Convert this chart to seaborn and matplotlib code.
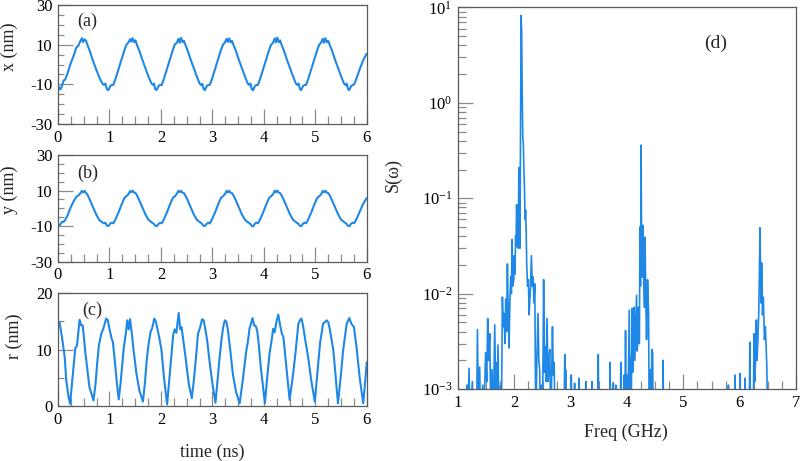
import matplotlib
matplotlib.use("Agg")
import numpy as np
import pandas as pd
import matplotlib.pyplot as plt
import seaborn as sns
from matplotlib.ticker import MultipleLocator, FixedLocator, LogLocator, NullFormatter

# ---------------- data ----------------
t_xy = [0.000, 0.020, 0.045, 0.080, 0.110, 0.140, 0.185, 0.245, 0.305, 0.355, 0.395, 0.435, 0.465, 0.490, 0.515, 0.545, 0.575, 0.615, 0.675, 0.735, 0.800, 0.860, 0.890, 0.920, 0.950,
        0.980, 1.015, 1.045, 1.075, 1.120, 1.180, 1.240, 1.290, 1.330, 1.370, 1.400, 1.425, 1.450, 1.480, 1.505, 1.540, 1.580, 1.640, 1.700, 1.760, 1.810, 1.840, 1.865, 1.890,
        1.920, 1.955, 1.985, 2.015, 2.060, 2.120, 2.180, 2.230, 2.270, 2.310, 2.340, 2.365, 2.390, 2.420, 2.445, 2.480, 2.520, 2.580, 2.640, 2.700, 2.750, 2.780, 2.805, 2.830,
        2.855, 2.890, 2.920, 2.950, 2.995, 3.055, 3.115, 3.165, 3.205, 3.245, 3.275, 3.300, 3.325, 3.355, 3.380, 3.415, 3.455, 3.515, 3.575, 3.635, 3.685, 3.715, 3.740, 3.765,
        3.790, 3.825, 3.855, 3.885, 3.930, 3.990, 4.050, 4.100, 4.140, 4.180, 4.210, 4.235, 4.260, 4.290, 4.315, 4.350, 4.390, 4.450, 4.510, 4.570, 4.620, 4.650, 4.675, 4.700,
        4.725, 4.760, 4.790, 4.820, 4.865, 4.925, 4.985, 5.035, 5.075, 5.115, 5.145, 5.170, 5.195, 5.225, 5.250, 5.285, 5.325, 5.385, 5.445, 5.505, 5.555, 5.585, 5.610, 5.635,
        5.660, 5.695, 5.725, 5.755, 5.800, 5.860, 5.920, 5.960, 6.000]

x_nm = [-10.2, -11.8, -12.6, -10.6, -8.0, -7.6, -4.5, 0.5, 4.5, 8.5, 9.5, 11.8, 13.3, 11.3, 12.7, 12.0, 9.7, 7.0, 2.3, -2.0, -6.3, -9.5, -10.3, -9.6, -12.4,
        -12.9, -10.9, -10.3, -10.3, -7.0, -2.0, 3.0, 7.2, 10.0, 11.2, 12.8, 11.5, 13.3, 11.3, 12.2, 9.5, 7.0, 2.3, -2.0, -6.2, -9.3, -10.2, -9.6, -12.5,
        -12.8, -10.8, -10.2, -10.4, -7.0, -2.0, 3.0, 7.2, 10.2, 11.0, 13.0, 11.0, 13.5, 11.4, 12.0, 9.6, 7.0, 2.3, -2.0, -6.2, -9.5, -10.3, -9.8, -12.4,
        -12.9, -10.9, -10.3, -10.3, -7.0, -2.0, 3.0, 7.2, 10.0, 11.2, 13.0, 11.4, 13.2, 11.2, 12.0, 9.5, 7.0, 2.3, -2.0, -6.2, -9.5, -10.3, -9.6, -12.4,
        -13.0, -10.9, -10.3, -10.3, -7.0, -2.0, 3.0, 7.2, 10.0, 11.0, 13.2, 11.2, 13.6, 11.3, 12.2, 9.5, 7.0, 2.3, -2.0, -6.2, -9.5, -10.3, -9.6, -12.4,
        -12.9, -10.9, -10.3, -10.3, -7.0, -2.0, 3.0, 7.2, 10.0, 11.2, 13.0, 11.0, 13.3, 11.3, 12.0, 9.5, 7.0, 2.3, -2.0, -6.2, -9.5, -10.3, -9.6, -12.4,
        -12.9, -10.9, -10.3, -10.0, -7.0, -2.5, 1.5, 3.8, 5.5]

y_nm = [-9.2, -9.8, -9.0, -7.5, -7.6, -6.5, -4.0, 0.5, 4.0, 6.5, 7.2, 8.5, 9.8, 8.9, 9.8, 8.6, 7.5, 5.0, 1.0, -3.0, -6.5, -7.8, -8.4, -8.0, -9.7,
        -9.9, -8.5, -8.0, -8.4, -6.0, -2.0, 2.5, 5.8, 6.9, 8.0, 9.7, 9.0, 10.0, 8.8, 8.7, 7.0, 4.5, 0.5, -3.5, -6.5, -7.6, -8.2, -8.8, -9.7,
        -10.0, -8.6, -8.1, -8.4, -6.0, -2.0, 2.5, 5.8, 6.8, 8.2, 9.9, 9.1, 9.8, 8.8, 8.6, 7.0, 4.5, 0.5, -3.5, -6.5, -7.6, -8.2, -8.9, -9.8,
        -9.9, -8.6, -8.0, -8.5, -6.0, -2.0, 2.5, 5.8, 6.8, 8.0, 9.8, 8.9, 9.9, 8.7, 8.6, 7.0, 4.5, 0.5, -3.5, -6.5, -7.7, -8.2, -8.8, -9.9,
        -10.1, -8.6, -8.0, -8.4, -6.0, -2.0, 2.5, 5.8, 6.8, 8.0, 9.9, 9.0, 10.0, 8.8, 8.6, 7.0, 4.5, 0.5, -3.5, -6.5, -7.6, -8.2, -8.8, -9.8,
        -10.0, -8.6, -8.0, -8.4, -6.0, -2.0, 2.5, 5.8, 6.8, 8.0, 9.8, 9.0, 9.9, 8.8, 8.6, 7.0, 4.5, 0.5, -3.5, -6.5, -7.6, -8.2, -8.8, -9.8,
        -10.0, -8.6, -8.0, -8.3, -6.0, -2.0, 2.0, 4.0, 5.8]

t_r = [0.000, 0.030, 0.060, 0.090, 0.130, 0.160, 0.205, 0.235, 0.265, 0.300, 0.335, 0.370, 0.395, 0.420, 0.450, 0.480, 0.500, 0.530, 0.565, 0.610, 0.690,
       0.730, 0.760, 0.795, 0.840, 0.880, 0.935, 0.965, 1.000, 1.040, 1.065, 1.100, 1.145, 1.180,
       1.215, 1.250, 1.280, 1.320, 1.345, 1.375, 1.400, 1.430, 1.470, 1.520, 1.580, 1.650,
       1.690, 1.720, 1.760, 1.800, 1.830, 1.870, 1.900, 1.930, 1.970, 2.010, 2.060, 2.120,
       2.160, 2.200, 2.240, 2.270, 2.300, 2.345, 2.375, 2.400, 2.430, 2.480, 2.540, 2.600,
       2.640, 2.680, 2.720, 2.760, 2.800, 2.830, 2.860, 2.900, 2.950, 3.000, 3.060,
       3.100, 3.140, 3.180, 3.210, 3.240, 3.270, 3.300, 3.340, 3.400, 3.460, 3.530,
       3.590, 3.660, 3.690, 3.720, 3.780, 3.810, 3.840, 3.870, 3.900, 3.940, 4.020,
       4.060, 4.110, 4.150, 4.180, 4.210, 4.250, 4.280, 4.310, 4.350, 4.380, 4.430, 4.500,
       4.570, 4.620, 4.670, 4.700, 4.730, 4.760, 4.810, 4.860, 4.920, 4.990,
       5.040, 5.090, 5.150, 5.190, 5.220, 5.250, 5.280, 5.350, 5.400, 5.440,
       5.500, 5.540, 5.610, 5.660, 5.700, 5.750, 5.800, 5.860, 5.930, 5.960, 6.000]

r_nm = [14.6, 14.9, 13.1, 11.4, 8.7, 4.6, 1.6, 0.4, 3.4, 6.9, 10.2, 10.8, 13.1, 15.3, 14.3, 14.3, 12.5, 9.6, 6.9, 3.4, 1.0,
        4.0, 7.5, 10.8, 12.8, 13.7, 15.5, 15.3, 13.7, 12.0, 11.4, 8.4, 4.0, 1.2,
        4.0, 7.5, 10.5, 13.0, 15.2, 13.6, 15.4, 13.2, 9.8, 6.0, 2.8, 0.8,
        4.2, 7.8, 11.0, 13.2, 13.8, 15.5, 15.0, 13.8, 12.0, 10.0, 5.0, 0.3,
        4.4, 8.6, 12.8, 13.6, 13.0, 16.5, 13.6, 14.0, 12.0, 8.5, 4.0, 1.4,
        4.6, 8.5, 12.8, 13.9, 15.4, 15.2, 13.8, 11.5, 7.5, 4.0, 0.6,
        4.6, 8.6, 12.0, 14.0, 15.2, 15.0, 13.6, 10.5, 5.5, 2.5, 0.5,
        4.6, 9.9, 11.4, 13.7, 15.6, 14.3, 14.2, 13.4, 11.0, 6.9, 0.5,
        4.6, 9.3, 11.6, 13.7, 13.1, 15.2, 16.2, 14.6, 12.8, 12.2, 7.5, 1.1,
        5.8, 9.9, 14.6, 15.2, 15.5, 14.3, 11.4, 8.7, 4.6, 0.8,
        5.8, 11.0, 14.6, 14.9, 15.2, 14.9, 13.7, 9.9, 4.6, 0.5,
        5.8, 9.9, 14.6, 15.6, 14.6, 14.0, 10.5, 5.2, 0.5, 3.4, 7.8]

freq_ghz = [1.100, 1.150, 1.160, 1.175, 1.195, 1.215, 1.255, 1.270, 1.330, 1.345, 1.365, 1.385, 1.400, 1.440, 1.455,
            1.490, 1.510, 1.527, 1.545, 1.563, 1.585, 1.604, 1.625, 1.652, 1.668, 1.680, 1.695, 1.710, 1.730, 1.752, 1.770,
            1.788, 1.803, 1.818, 1.833, 1.847, 1.862, 1.877, 1.892, 1.906, 1.920, 1.936, 1.948, 1.960, 1.975, 1.990, 2.000,
            2.013, 2.022, 2.030, 2.040, 2.050, 2.060, 2.070, 2.080, 2.090, 2.100, 2.110, 2.120, 2.130, 2.140, 2.150, 2.160,
            2.170, 2.180, 2.190, 2.200, 2.210, 2.220, 2.235, 2.250, 2.262, 2.274, 2.288, 2.303, 2.318, 2.333, 2.348, 2.363,
            2.380, 2.400, 2.420, 2.435, 2.450, 2.465, 2.480, 2.500, 2.520, 2.535, 2.546, 2.562, 2.580, 2.600, 2.615, 2.630,
            2.645, 2.660, 2.677, 2.692, 2.706, 2.725, 2.880, 2.896, 2.903, 2.910, 2.925, 3.000, 3.010, 3.020, 3.060, 3.070,
            3.080, 3.140, 3.150, 3.160, 3.260, 3.270, 3.280, 3.370, 3.380, 3.390, 3.480, 3.490, 3.500, 3.690, 3.700, 3.710,
            3.745, 3.755, 3.765, 3.790, 3.800, 3.810, 3.880, 3.890, 3.900, 3.940, 3.950, 3.960, 3.974, 3.988, 4.000, 4.015,
            4.040, 4.052, 4.060, 4.075, 4.087, 4.100, 4.110, 4.128, 4.138, 4.146, 4.158, 4.170, 4.180, 4.187, 4.196, 4.205,
            4.213, 4.220, 4.230, 4.240, 4.250, 4.258, 4.265, 4.272, 4.280, 4.290, 4.306, 4.320, 4.335, 4.347, 4.365, 4.383,
            4.395, 4.420, 4.430, 4.440, 4.455, 4.466, 4.630, 4.640, 4.650, 5.790, 5.800, 5.810, 5.907, 5.917, 5.927, 5.996,
            6.006, 6.016, 6.085, 6.095, 6.105, 6.170, 6.180, 6.195, 6.240, 6.255, 6.268, 6.280, 6.296, 6.308, 6.320, 6.338,
            6.350, 6.360, 6.370, 6.380, 6.390, 6.405, 6.420, 6.440, 6.456, 6.480, 6.500, 6.550]

s_omega = [4e-4, 4e-4, 1.1e-3, 4e-4, 1.65e-3, 4e-4, 1.2e-3, 4e-4, 4e-4, 4.2e-3, 4e-4, 1.7e-3, 4e-4, 1.1e-3, 4e-4,
           2.4e-3, 1.2e-3, 5.5e-3, 2.0e-3, 3.8e-3, 4e-4, 1.6e-3, 4e-4, 4.7e-3, 1.0e-3, 1.9e-3, 4e-4, 2.9e-3, 4e-4, 1.07e-3, 4e-4,
           9.2e-3, 4.5e-3, 6.2e-3, 3.0e-3, 8.8e-3, 4.0e-3, 2.05e-2, 6.0e-3, 2.7e-3, 8.0e-3, 1.5e-2, 1.0e-2, 3.7e-2, 1.2e-2, 1.4e-2, 2.5e-2,
           1.6e-2, 4.0e-2, 3.1e-2, 8.5e-2, 5.0e-2, 8.5e-2, 3.0e-2, 2.1e-1, 6.0e-2, 3.0e-2, 6.0e-1, 8.2, 5.5, 1.2, 4.4e-1, 3.7e-1,
           2.0e-1, 1.3e-1, 6.0e-2, 7.5e-2, 4.5e-2, 2.0e-2, 1.2e-2, 1.4e-2, 6.0e-3, 8.5e-3, 1.2e-2, 2.5e-2, 1.2e-2, 1.5e-2, 8.0e-3, 1.27e-2,
           4e-4, 2.0e-3, 6.2e-3, 2.0e-3, 1.6e-3, 4e-4, 1.1e-3, 4e-4, 1.4e-2, 1.5e-3, 2.8e-3, 1.2e-3, 5.5e-3, 1.2e-3, 2.0e-3, 2.6e-3,
           4e-4, 1.1e-3, 4.5e-3, 1.4e-3, 1.9e-3, 4e-4, 4e-4, 2.3e-3, 4e-4, 1.6e-3, 4e-4, 4e-4, 1.4e-3, 4e-4, 4e-4, 1.15e-3,
           4e-4, 4e-4, 1.3e-3, 4e-4, 4e-4, 1.2e-3, 4e-4, 4e-4, 1.2e-3, 4e-4, 4e-4, 2.3e-3, 4e-4, 4e-4, 1.9e-3, 4e-4,
           4e-4, 1.15e-3, 4e-4, 4e-4, 1.1e-3, 4e-4, 4e-4, 1.9e-3, 4e-4, 4e-4, 1.4e-3, 4e-4, 4.1e-3, 4e-4, 1.4e-3, 4e-4,
           6.7e-3, 4e-4, 2.2e-3, 4e-4, 7.0e-3, 1.5e-3, 3.3e-3, 7.2e-3, 2.0e-3, 3.0e-3, 5.0e-3, 9.6e-3, 2.5e-3, 2.9e-3, 5.0e-3, 7.2e-3,
           3.0e-3, 3.0e-3, 5.0e-2, 1.2e-2, 3.6e-1, 4.0e-2, 5.0e-2, 1.5e-2, 5.2e-2, 2.4e-2, 7.2e-3, 3.9e-2, 8.0e-3, 3.3e-3, 1.4e-2, 6.2e-3,
           4e-4, 1.6e-3, 4e-4, 2.6e-3, 2.4e-3, 4e-4, 4e-4, 2.0e-3, 4e-4, 4e-4, 1.1e-3, 4e-4, 4e-4, 1.4e-3, 4e-4, 4e-4,
           1.45e-3, 4e-4, 4e-4, 1.3e-3, 4e-4, 4e-4, 3.1e-3, 4e-4, 4e-4, 3.8e-3, 1.2e-3, 1.9e-3, 5.3e-3, 2.0e-3, 2.9e-3, 6.2e-3,
           1.5e-2, 4.9e-2, 2.0e-2, 8.0e-3, 2.1e-2, 6.0e-3, 9.2e-3, 3.3e-3, 4.5e-3, 1.9e-3, 4e-4, 4e-4]

time_ticks = [0, 1, 2, 3, 4, 5, 6]
xy_ticks = [-30, -10, 10, 30]
r_ticks = [0, 10, 20]
freq_ticks = [1, 2, 3, 4, 5, 6, 7]

# ---------------- style ----------------
sns.set_style("ticks")
plt.rcParams['font.family'] = ['Liberation Serif', 'DejaVu Serif']
plt.rcParams['mathtext.fontset'] = 'custom'
plt.rcParams['mathtext.rm'] = 'Liberation Serif'
plt.rcParams['mathtext.it'] = 'Liberation Serif:italic'
plt.rcParams['axes.unicode_minus'] = False

LINE = '#1f88e6'
SPINE = '#5a5a5a'
TICK = '#8a8a8a'
TICKFS = 12
LABFS = 13

fig = plt.figure(figsize=(8, 4.61), dpi=100)
ax_a = fig.add_axes([0.0725, 0.731, 0.386, 0.258])
ax_b = fig.add_axes([0.0725, 0.432, 0.386, 0.232])
ax_c = fig.add_axes([0.0725, 0.119, 0.386, 0.245])
ax_d = fig.add_axes([0.5725, 0.156, 0.4225, 0.828])

df_xy = pd.DataFrame({'t': t_xy, 'x': x_nm, 'y': y_nm})
df_r = pd.DataFrame({'t': t_r, 'r': r_nm})
df_s = pd.DataFrame({'f': freq_ghz, 's': s_omega})

sns.lineplot(data=df_xy, x='t', y='x', ax=ax_a, color=LINE, linewidth=1.5, estimator=None, sort=False)
sns.lineplot(data=df_xy, x='t', y='y', ax=ax_b, color=LINE, linewidth=1.5, estimator=None, sort=False)
sns.lineplot(data=df_r, x='t', y='r', ax=ax_c, color=LINE, linewidth=1.5, estimator=None, sort=False)
sns.lineplot(data=df_s, x='f', y='s', ax=ax_d, color=LINE, linewidth=1.2, estimator=None, sort=False)


def style(ax):
    for sp in ax.spines.values():
        sp.set_visible(True)
        sp.set_color(SPINE)
        sp.set_linewidth(0.9)
    ax.tick_params(which='both', direction='in', color=TICK, width=0.9,
                   labelsize=TICKFS, labelcolor='black', pad=4,
                   top=False, right=False)


for ax, ticks, lo, hi in [(ax_a, xy_ticks, -30, 30), (ax_b, xy_ticks, -30, 30), (ax_c, r_ticks, 0, 20)]:
    style(ax)
    ax.set_xlim(0, 6)
    ax.set_ylim(lo, hi)
    ax.xaxis.set_major_locator(FixedLocator(time_ticks))
    ax.xaxis.set_minor_locator(MultipleLocator(0.25))
    ax.yaxis.set_major_locator(FixedLocator(ticks))
    ax.yaxis.set_minor_locator(MultipleLocator(5))
    ax.tick_params(axis='x', which='major', length=10.5)
    ax.tick_params(axis='x', which='minor', length=5.5)
    ax.tick_params(axis='y', which='major', length=10.5)
    ax.tick_params(axis='y', which='minor', length=4)
    ax.set_xlabel('')

style(ax_d)
ax_d.set_xlim(1, 7)
ax_d.set_yscale('log')
ax_d.set_ylim(1e-3, 10)
ax_d.xaxis.set_major_locator(FixedLocator(freq_ticks))
ax_d.xaxis.set_minor_locator(MultipleLocator(0.25))
ax_d.yaxis.set_major_locator(LogLocator(base=10, numticks=10))
ax_d.yaxis.set_minor_locator(LogLocator(base=10, subs=np.arange(2, 10), numticks=20))
ax_d.yaxis.set_minor_formatter(NullFormatter())
ax_d.tick_params(axis='both', which='major', length=10.5)
ax_d.tick_params(axis='both', which='minor', length=5.5)

ax_a.set_ylabel('x (nm)', fontsize=LABFS)
ax_b.set_ylabel('y (nm)', fontsize=LABFS)
ax_c.set_ylabel('r (nm)', fontsize=LABFS)
ax_c.set_xlabel('time (ns)', fontsize=LABFS)
ax_d.set_ylabel('S(ω)', fontsize=LABFS)
ax_d.set_xlabel('Freq (GHz)', fontsize=LABFS)

ax_a.yaxis.set_label_coords(-0.128, 0.647)
ax_b.yaxis.set_label_coords(-0.128, 0.673)
ax_c.yaxis.set_label_coords(-0.112, 0.62)
ax_c.xaxis.set_label_coords(0.5, -0.33)
ax_d.yaxis.set_label_coords(-0.165, 0.562)
ax_d.xaxis.set_label_coords(0.497, -0.09)

ax_a.text(0.061, 0.866, '(a)', transform=ax_a.transAxes, fontsize=LABFS, ha='left', va='center')
ax_b.text(0.061, 0.827, '(b)', transform=ax_b.transAxes, fontsize=LABFS, ha='left', va='center')
ax_c.text(0.078, 0.845, '(c)', transform=ax_c.transAxes, fontsize=LABFS, ha='left', va='center')
ax_d.text(0.728, 0.907, '(d)', transform=ax_d.transAxes, fontsize=LABFS + 1, ha='left', va='center')

fig.savefig('out.png', dpi=100)
